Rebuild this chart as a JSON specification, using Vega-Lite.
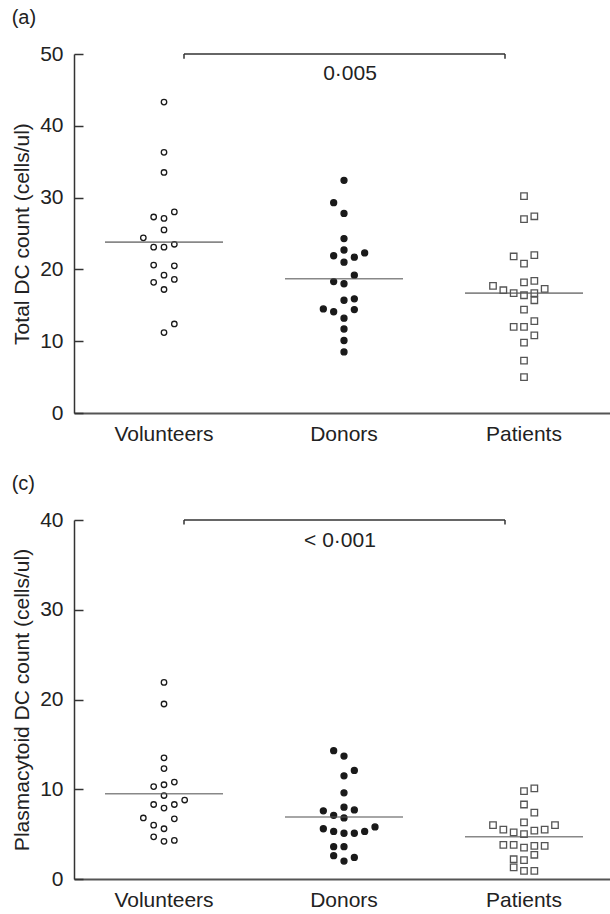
{
  "$schema": "https://vega.github.io/schema/vega-lite/v6.json",
  "padding": {"left": 11, "top": 8, "right": 0, "bottom": 0},
  "background": "white",
  "config": {
    "font": "Liberation Sans",
    "view": {"stroke": null},
    "axis": {"domainColor": "#333", "domainWidth": 1.5, "labelColor": "#222", "titleColor": "#222", "labelFontSize": 21, "titleFontSize": 21, "titleFontWeight": "normal", "grid": false, "tickColor": "#333", "tickWidth": 1.5},
    "title": {"fontSize": 20, "fontWeight": "normal", "color": "#222", "anchor": "start", "frame": "bounds"},
    "concat": {"spacing": 30}
  },
  "datasets": {
    "a": [
      {"group": "Volunteers", "slot": 0, "value": 43.3},
      {"group": "Volunteers", "slot": 0, "value": 36.3},
      {"group": "Volunteers", "slot": 0, "value": 33.5},
      {"group": "Volunteers", "slot": 1, "value": 28.0},
      {"group": "Volunteers", "slot": -1, "value": 27.3},
      {"group": "Volunteers", "slot": 0, "value": 27.1},
      {"group": "Volunteers", "slot": 0, "value": 25.5},
      {"group": "Volunteers", "slot": -2, "value": 24.4},
      {"group": "Volunteers", "slot": -1, "value": 23.1},
      {"group": "Volunteers", "slot": 0, "value": 23.1},
      {"group": "Volunteers", "slot": 1, "value": 23.5},
      {"group": "Volunteers", "slot": -1, "value": 20.6},
      {"group": "Volunteers", "slot": 1, "value": 20.5},
      {"group": "Volunteers", "slot": 0, "value": 19.2},
      {"group": "Volunteers", "slot": -1, "value": 18.2},
      {"group": "Volunteers", "slot": 1, "value": 18.6},
      {"group": "Volunteers", "slot": 0, "value": 17.2},
      {"group": "Volunteers", "slot": 1, "value": 12.4},
      {"group": "Volunteers", "slot": 0, "value": 11.2},
      {"group": "Donors", "slot": 0, "value": 32.4},
      {"group": "Donors", "slot": -1, "value": 29.3},
      {"group": "Donors", "slot": 0, "value": 27.8},
      {"group": "Donors", "slot": 0, "value": 24.3},
      {"group": "Donors", "slot": 0, "value": 22.7},
      {"group": "Donors", "slot": -1, "value": 21.9},
      {"group": "Donors", "slot": 1, "value": 21.7},
      {"group": "Donors", "slot": 2, "value": 22.3},
      {"group": "Donors", "slot": 0, "value": 21.0},
      {"group": "Donors", "slot": 1, "value": 19.2},
      {"group": "Donors", "slot": -1, "value": 18.3},
      {"group": "Donors", "slot": 0, "value": 18.0},
      {"group": "Donors", "slot": 0, "value": 15.7},
      {"group": "Donors", "slot": 1, "value": 15.9},
      {"group": "Donors", "slot": -2, "value": 14.5},
      {"group": "Donors", "slot": -1, "value": 14.1},
      {"group": "Donors", "slot": 1, "value": 14.4},
      {"group": "Donors", "slot": 0, "value": 13.2},
      {"group": "Donors", "slot": 0, "value": 11.7},
      {"group": "Donors", "slot": 0, "value": 10.1},
      {"group": "Donors", "slot": 0, "value": 8.5},
      {"group": "Patients", "slot": 0, "value": 30.2},
      {"group": "Patients", "slot": 0, "value": 27.0},
      {"group": "Patients", "slot": 1, "value": 27.4},
      {"group": "Patients", "slot": -1, "value": 21.8},
      {"group": "Patients", "slot": 1, "value": 22.0},
      {"group": "Patients", "slot": 0, "value": 20.8},
      {"group": "Patients", "slot": 0, "value": 18.2},
      {"group": "Patients", "slot": 1, "value": 18.4},
      {"group": "Patients", "slot": -3, "value": 17.7},
      {"group": "Patients", "slot": -2, "value": 17.1},
      {"group": "Patients", "slot": -1, "value": 16.7},
      {"group": "Patients", "slot": 0, "value": 16.4},
      {"group": "Patients", "slot": 1, "value": 16.7},
      {"group": "Patients", "slot": 2, "value": 17.3},
      {"group": "Patients", "slot": 1, "value": 15.7},
      {"group": "Patients", "slot": 0, "value": 14.4},
      {"group": "Patients", "slot": 1, "value": 12.8},
      {"group": "Patients", "slot": -1, "value": 12.0},
      {"group": "Patients", "slot": 0, "value": 12.0},
      {"group": "Patients", "slot": 1, "value": 10.8},
      {"group": "Patients", "slot": 0, "value": 9.8},
      {"group": "Patients", "slot": 0, "value": 7.3},
      {"group": "Patients", "slot": 0, "value": 5.0}
    ],
    "c": [
      {"group": "Volunteers", "slot": 0, "value": 21.9},
      {"group": "Volunteers", "slot": 0, "value": 19.5},
      {"group": "Volunteers", "slot": 0, "value": 13.5},
      {"group": "Volunteers", "slot": 0, "value": 12.3},
      {"group": "Volunteers", "slot": -1, "value": 10.3},
      {"group": "Volunteers", "slot": 0, "value": 10.5},
      {"group": "Volunteers", "slot": 1, "value": 10.8},
      {"group": "Volunteers", "slot": 0, "value": 9.3},
      {"group": "Volunteers", "slot": 2, "value": 8.8},
      {"group": "Volunteers", "slot": -1, "value": 8.3},
      {"group": "Volunteers", "slot": 1, "value": 8.3},
      {"group": "Volunteers", "slot": 0, "value": 7.9},
      {"group": "Volunteers", "slot": -2, "value": 6.8},
      {"group": "Volunteers", "slot": 1, "value": 6.7},
      {"group": "Volunteers", "slot": -1, "value": 6.0},
      {"group": "Volunteers", "slot": 0, "value": 5.6},
      {"group": "Volunteers", "slot": -1, "value": 4.7},
      {"group": "Volunteers", "slot": 0, "value": 4.2},
      {"group": "Volunteers", "slot": 1, "value": 4.3},
      {"group": "Donors", "slot": -1, "value": 14.3},
      {"group": "Donors", "slot": 0, "value": 13.7},
      {"group": "Donors", "slot": 0, "value": 11.5},
      {"group": "Donors", "slot": 1, "value": 12.1},
      {"group": "Donors", "slot": 0, "value": 9.6},
      {"group": "Donors", "slot": 0, "value": 8.0},
      {"group": "Donors", "slot": -2, "value": 7.6},
      {"group": "Donors", "slot": 1, "value": 7.7},
      {"group": "Donors", "slot": -1, "value": 7.1},
      {"group": "Donors", "slot": 0, "value": 6.8},
      {"group": "Donors", "slot": -2, "value": 5.6},
      {"group": "Donors", "slot": -1, "value": 5.3},
      {"group": "Donors", "slot": 0, "value": 5.1},
      {"group": "Donors", "slot": 1, "value": 5.1},
      {"group": "Donors", "slot": 2, "value": 5.3},
      {"group": "Donors", "slot": 3, "value": 5.8},
      {"group": "Donors", "slot": -1, "value": 3.6},
      {"group": "Donors", "slot": 0, "value": 3.6},
      {"group": "Donors", "slot": -1, "value": 2.6},
      {"group": "Donors", "slot": 1, "value": 2.4},
      {"group": "Donors", "slot": 0, "value": 2.0},
      {"group": "Patients", "slot": 0, "value": 9.8},
      {"group": "Patients", "slot": 1, "value": 10.1},
      {"group": "Patients", "slot": 0, "value": 8.3},
      {"group": "Patients", "slot": 1, "value": 7.4},
      {"group": "Patients", "slot": 0, "value": 6.3},
      {"group": "Patients", "slot": -3, "value": 6.0},
      {"group": "Patients", "slot": -2, "value": 5.5},
      {"group": "Patients", "slot": -1, "value": 5.2},
      {"group": "Patients", "slot": 0, "value": 5.0},
      {"group": "Patients", "slot": 1, "value": 5.4},
      {"group": "Patients", "slot": 2, "value": 5.5},
      {"group": "Patients", "slot": 3, "value": 6.0},
      {"group": "Patients", "slot": -2, "value": 3.8},
      {"group": "Patients", "slot": -1, "value": 3.8},
      {"group": "Patients", "slot": 0, "value": 3.5},
      {"group": "Patients", "slot": 1, "value": 3.7},
      {"group": "Patients", "slot": 2, "value": 3.7},
      {"group": "Patients", "slot": -1, "value": 2.2},
      {"group": "Patients", "slot": 0, "value": 2.1},
      {"group": "Patients", "slot": 1, "value": 2.7},
      {"group": "Patients", "slot": -1, "value": 1.3},
      {"group": "Patients", "slot": 0, "value": 0.9},
      {"group": "Patients", "slot": 1, "value": 0.9}
    ],
    "amean": [
      {"group": "Volunteers", "value": 23.8},
      {"group": "Donors", "value": 18.7},
      {"group": "Patients", "value": 16.7}
    ],
    "cmean": [
      {"group": "Volunteers", "value": 9.5},
      {"group": "Donors", "value": 6.9},
      {"group": "Patients", "value": 4.7}
    ]
  },
  "vconcat": [
    {
      "title": {"text": "(a)", "offset": 15},
      "width": 540,
      "height": 359,
      "layer": [
        {
          "data": {"name": "a"},
          "mark": {"type": "point", "filled": true, "opacity": 1, "strokeWidth": 1.3},
          "encoding": {
            "x": {"field": "group", "type": "nominal", "scale": {"domain": ["Volunteers", "Donors", "Patients"], "paddingInner": 0, "paddingOuter": 0}, "axis": {"title": null, "ticks": false, "labelAngle": 0, "labelPadding": 10, "domainColor": "#555", "domainWidth": 2}},
            "xOffset": {"field": "slot", "type": "quantitative", "scale": {"domain": [-3, 3], "range": [59, 121]}},
            "y": {"field": "value", "type": "quantitative", "scale": {"domain": [0, 50], "nice": false}, "axis": {"title": "Total DC count (cells/ul)", "values": [0, 10, 20, 30, 40, 50], "tickSize": -9, "labelPadding": 20, "titlePadding": 7}},
            "shape": {"field": "group", "type": "nominal", "scale": {"domain": ["Volunteers", "Donors", "Patients"], "range": ["circle", "circle", "square"]}, "legend": null},
            "fill": {"field": "group", "type": "nominal", "scale": {"domain": ["Volunteers", "Donors", "Patients"], "range": ["#ffffff", "#1a1a1a", "#ffffff"]}, "legend": null},
            "stroke": {"field": "group", "type": "nominal", "scale": {"domain": ["Volunteers", "Donors", "Patients"], "range": ["#1a1a1a", "#1a1a1a", "#555555"]}, "legend": null},
            "size": {"field": "group", "type": "nominal", "scale": {"domain": ["Volunteers", "Donors", "Patients"], "range": [30, 42, 44]}, "legend": null}
          }
        },
        {
          "data": {"name": "amean"},
          "mark": {"type": "tick", "orient": "horizontal", "size": 118, "thickness": 1.6, "color": "#555"},
          "encoding": {
            "x": {"field": "group", "type": "nominal"},
            "y": {"field": "value", "type": "quantitative"}
          }
        },
        {
          "data": {"values": [{"from": "Volunteers", "to": "Patients", "y": 50}]},
          "mark": {"type": "rule", "xOffset": 20, "x2Offset": -19, "color": "#333", "strokeWidth": 1.5},
          "encoding": {
            "x": {"field": "from", "type": "nominal"},
            "x2": {"field": "to"},
            "y": {"field": "y", "type": "quantitative"}
          }
        },
        {
          "data": {"values": [{"g": "Volunteers", "y": 49.35, "y2": 50}]},
          "mark": {"type": "rule", "xOffset": 20, "color": "#333", "strokeWidth": 1.5},
          "encoding": {
            "x": {"field": "g", "type": "nominal"},
            "y": {"field": "y", "type": "quantitative"},
            "y2": {"field": "y2"}
          }
        },
        {
          "data": {"values": [{"g": "Patients", "y": 49.35, "y2": 50}]},
          "mark": {"type": "rule", "xOffset": -19, "color": "#333", "strokeWidth": 1.5},
          "encoding": {
            "x": {"field": "g", "type": "nominal"},
            "y": {"field": "y", "type": "quantitative"},
            "y2": {"field": "y2"}
          }
        },
        {
          "data": {"values": [{"g": "Donors", "y": 47.2, "t": "0·005"}]},
          "mark": {"type": "text", "fontSize": 21, "dx": 6, "baseline": "middle", "color": "#222"},
          "encoding": {
            "x": {"field": "g", "type": "nominal"},
            "y": {"field": "y", "type": "quantitative"},
            "text": {"field": "t"}
          }
        }
      ]
    },
    {
      "title": {"text": "(c)", "offset": 15},
      "width": 540,
      "height": 359,
      "layer": [
        {
          "data": {"name": "c"},
          "mark": {"type": "point", "filled": true, "opacity": 1, "strokeWidth": 1.3},
          "encoding": {
            "x": {"field": "group", "type": "nominal", "scale": {"domain": ["Volunteers", "Donors", "Patients"], "paddingInner": 0, "paddingOuter": 0}, "axis": {"title": null, "ticks": false, "labelAngle": 0, "labelPadding": 10, "domainColor": "#555", "domainWidth": 2}},
            "xOffset": {"field": "slot", "type": "quantitative", "scale": {"domain": [-3, 3], "range": [59, 121]}},
            "y": {"field": "value", "type": "quantitative", "scale": {"domain": [0, 40], "nice": false}, "axis": {"title": "Plasmacytoid DC count (cells/ul)", "values": [0, 10, 20, 30, 40], "tickSize": -9, "labelPadding": 20, "titlePadding": 7}},
            "shape": {"field": "group", "type": "nominal", "scale": {"domain": ["Volunteers", "Donors", "Patients"], "range": ["circle", "circle", "square"]}, "legend": null},
            "fill": {"field": "group", "type": "nominal", "scale": {"domain": ["Volunteers", "Donors", "Patients"], "range": ["#ffffff", "#1a1a1a", "#ffffff"]}, "legend": null},
            "stroke": {"field": "group", "type": "nominal", "scale": {"domain": ["Volunteers", "Donors", "Patients"], "range": ["#1a1a1a", "#1a1a1a", "#555555"]}, "legend": null},
            "size": {"field": "group", "type": "nominal", "scale": {"domain": ["Volunteers", "Donors", "Patients"], "range": [30, 42, 44]}, "legend": null}
          }
        },
        {
          "data": {"name": "cmean"},
          "mark": {"type": "tick", "orient": "horizontal", "size": 118, "thickness": 1.6, "color": "#555"},
          "encoding": {
            "x": {"field": "group", "type": "nominal"},
            "y": {"field": "value", "type": "quantitative"}
          }
        },
        {
          "data": {"values": [{"from": "Volunteers", "to": "Patients", "y": 40}]},
          "mark": {"type": "rule", "xOffset": 20, "x2Offset": -19, "color": "#333", "strokeWidth": 1.5},
          "encoding": {
            "x": {"field": "from", "type": "nominal"},
            "x2": {"field": "to"},
            "y": {"field": "y", "type": "quantitative"}
          }
        },
        {
          "data": {"values": [{"g": "Volunteers", "y": 39.5, "y2": 40}]},
          "mark": {"type": "rule", "xOffset": 20, "color": "#333", "strokeWidth": 1.5},
          "encoding": {
            "x": {"field": "g", "type": "nominal"},
            "y": {"field": "y", "type": "quantitative"},
            "y2": {"field": "y2"}
          }
        },
        {
          "data": {"values": [{"g": "Patients", "y": 39.5, "y2": 40}]},
          "mark": {"type": "rule", "xOffset": -19, "color": "#333", "strokeWidth": 1.5},
          "encoding": {
            "x": {"field": "g", "type": "nominal"},
            "y": {"field": "y", "type": "quantitative"},
            "y2": {"field": "y2"}
          }
        },
        {
          "data": {"values": [{"g": "Donors", "y": 37.7, "t": "< 0·001"}]},
          "mark": {"type": "text", "fontSize": 21, "dx": -4, "baseline": "middle", "color": "#222"},
          "encoding": {
            "x": {"field": "g", "type": "nominal"},
            "y": {"field": "y", "type": "quantitative"},
            "text": {"field": "t"}
          }
        }
      ]
    }
  ]
}
